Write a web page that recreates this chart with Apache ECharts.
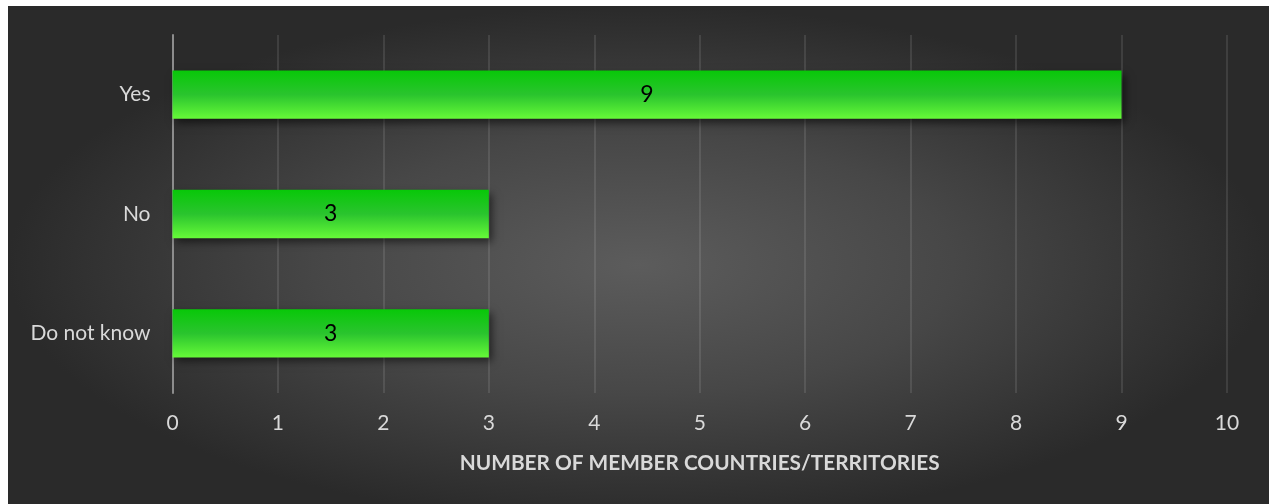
<!DOCTYPE html>
<html>
<head>
<meta charset="utf-8">
<script src="https://cdn.jsdelivr.net/npm/echarts@6/dist/echarts.min.js"></script>
<style>
  html, body { margin: 0; padding: 0; background: #ffffff; width: 1275px; height: 504px; overflow: hidden; }
  #chart {
    position: absolute; left: 8px; top: 6px; width: 1261px; height: 498px;
    background: radial-gradient(ellipse farthest-side at 50% 52%, #5c5c5c 0%, #474747 50%, #2a2a2a 100%);
  }
</style>
</head>
<body>
<div id="chart"></div>
<script>
// Survey answers, drawn bottom-to-top on a horizontal bar chart
const categories = ['Do not know', 'No', 'Yes'];
const counts = [3, 3, 9];
const axisTitle = 'NUMBER OF MEMBER COUNTRIES/TERRITORIES';

const FONT = 'Lato, "Open Sans", sans-serif';
const chart = echarts.init(document.getElementById('chart'), null, { renderer: 'canvas' });

chart.setOption({
  backgroundColor: 'transparent',
  animation: false,
  grid: { left: 164.5, right: 42, top: 29, bottom: 111, containLabel: false },
  xAxis: {
    type: 'value',
    min: 0, max: 10, interval: 1,
    name: axisTitle,
    nameLocation: 'middle',
    nameGap: 60,
    nameTextStyle: { color: '#d9d9d9', fontSize: 20.8, fontWeight: 'bold', fontFamily: FONT },
    axisLine: { show: false },
    axisTick: { show: false },
    axisLabel: { color: '#d9d9d9', fontSize: 21, margin: 20, fontFamily: FONT },
    splitLine: { show: true, lineStyle: { color: 'rgba(255,255,255,0.10)', width: 2 } }
  },
  yAxis: {
    type: 'category',
    data: categories,
    axisLine: { show: true, lineStyle: { color: '#8c8c8c', width: 2 } },
    axisTick: { show: false },
    axisLabel: { color: '#d9d9d9', fontSize: 21, margin: 22, fontFamily: FONT },
    splitLine: { show: false }
  },
  series: [{
    type: 'bar',
    data: counts,
    barWidth: '40.5%',
    itemStyle: {
      color: new echarts.graphic.LinearGradient(0, 0, 0, 1, [
        { offset: 0, color: '#08c808' },
        { offset: 0.5, color: '#2ac42e' },
        { offset: 1, color: '#66fa38' }
      ]),
      shadowColor: 'rgba(0,0,0,0.55)',
      shadowBlur: 8,
      shadowOffsetX: 3,
      shadowOffsetY: 4
    },
    label: {
      show: true,
      position: 'inside',
      color: '#000000',
      fontSize: 23,
      fontFamily: FONT
    }
  }]
});
</script>
</body>
</html>
